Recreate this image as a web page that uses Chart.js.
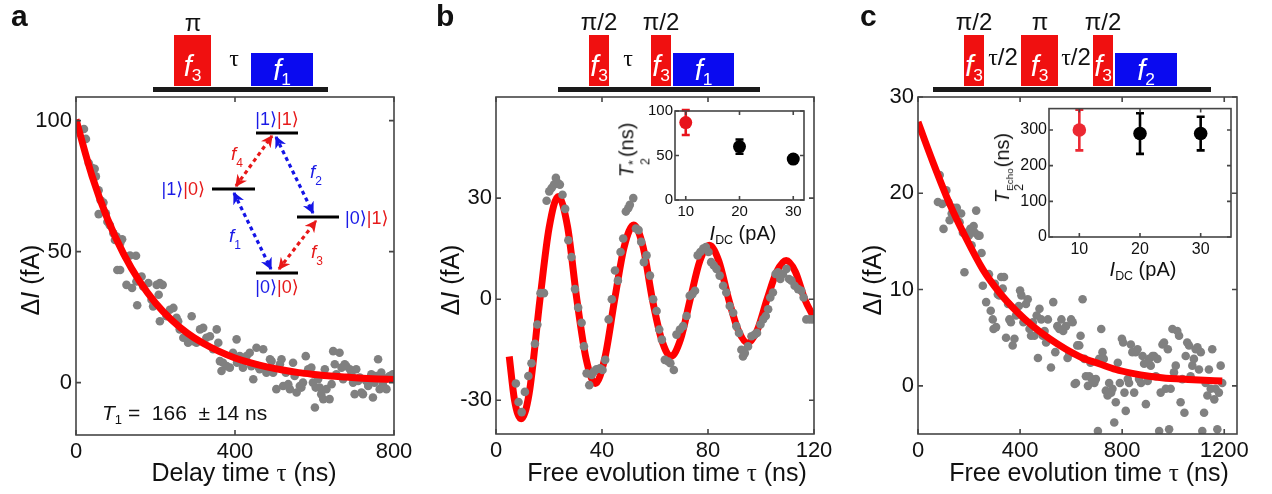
<!DOCTYPE html>
<html>
<head>
<meta charset="utf-8">
<script src="https://cdn.jsdelivr.net/npm/chart.js@4.4.1/dist/chart.umd.min.js"></script>
<style>
  body { margin: 0; background: #fff; }
  #fig { position: relative; width: 1272px; height: 494px; overflow: hidden;
         font-family: "Liberation Sans", Arial, sans-serif; color: #111; }
  #fig canvas, #fig svg { position: absolute; }
  .t { position: absolute; white-space: pre; line-height: 1; }
  .c { transform: translate(-50%, -50%); }
  .r { transform: translate(-50%, -50%) rotate(-90deg); }
  .lbl { font-weight: bold; font-size: 30px; }
  .ax { font-size: 25px; }
  .ins { font-size: 20px; }
  .sb { font-size: 0.62em; position: relative; top: 0.32em; }
  .stk { display: inline-flex; flex-direction: column; font-size: 0.62em; line-height: 0.95;
         vertical-align: -0.3em; text-align: left; margin-right: 1px; }
  .stk .e { font-size: 0.8em; }
  .serif { font-family: "Liberation Serif", "Times New Roman", serif; }
  .bar { position: absolute; top: 87px; height: 5px; background: #1a1a1a; }
  .pulse { position: absolute; bottom: calc(494px - 86px); color: #fff; font-size: 29px;
           display: flex; align-items: flex-end; justify-content: center; padding-bottom: 5px;
           box-sizing: border-box; line-height: 1; }
  .pulse .sb { font-size: 0.6em; top: 0.2em; }
  .red { background: #f01010; }
  .blue { background: #0a0af0; padding-bottom: 1px; }
  .pl { position: absolute; font-size: 24px; line-height: 1; transform: translateX(-50%); white-space: nowrap; }
</style>
</head>
<body>
<div id="fig">
  <canvas id="chartA" width="420" height="494" style="left:0;top:0"></canvas>
  <canvas id="chartB" width="420" height="494" style="left:420px;top:0"></canvas>
  <canvas id="chartC" width="432" height="494" style="left:840px;top:0"></canvas>
  <canvas id="insetB" width="180" height="122" style="left:640px;top:100px"></canvas>
  <canvas id="insetC" width="240" height="163" style="left:1005px;top:97px"></canvas>

  <!-- panel letters -->
  <div class="t lbl" style="left:11px;top:1px">a</div>
  <div class="t lbl" style="left:436px;top:1px">b</div>
  <div class="t lbl" style="left:860px;top:1px">c</div>

  <!-- pulse sequence a -->
  <div class="bar" style="left:153px;width:175px"></div>
  <div class="pulse red" style="left:174px;width:37px;height:51px"><i>f</i><span class="sb">3</span></div>
  <div class="pulse blue" style="left:251px;width:62px;height:33px"><i>f</i><span class="sb">1</span></div>
  <div class="pl" style="left:193px;top:11px">π</div>
  <div class="pl serif" style="left:234px;top:46px">τ</div>

  <!-- pulse sequence b -->
  <div class="bar" style="left:558px;width:202px"></div>
  <div class="pulse red" style="left:589px;width:20px;height:51px"><i>f</i><span class="sb">3</span></div>
  <div class="pulse red" style="left:651px;width:20px;height:51px"><i>f</i><span class="sb">3</span></div>
  <div class="pulse blue" style="left:673px;width:61px;height:33px"><i>f</i><span class="sb">1</span></div>
  <div class="pl" style="left:599px;top:10px">π/2</div>
  <div class="pl" style="left:661px;top:10px">π/2</div>
  <div class="pl serif" style="left:628px;top:46px">τ</div>

  <!-- pulse sequence c -->
  <div class="bar" style="left:933px;width:278px"></div>
  <div class="pulse red" style="left:964px;width:20px;height:51px"><i>f</i><span class="sb">3</span></div>
  <div class="pulse red" style="left:1021px;width:37px;height:51px"><i>f</i><span class="sb">3</span></div>
  <div class="pulse red" style="left:1093px;width:20px;height:51px"><i>f</i><span class="sb">3</span></div>
  <div class="pulse blue" style="left:1115px;width:62px;height:33px"><i>f</i><span class="sb">2</span></div>
  <div class="pl" style="left:974px;top:10px">π/2</div>
  <div class="pl" style="left:1040px;top:10px">π</div>
  <div class="pl" style="left:1103px;top:10px">π/2</div>
  <div class="pl" style="left:1003px;top:45px"><span class="serif">τ</span>/2</div>
  <div class="pl" style="left:1076px;top:45px"><span class="serif">τ</span>/2</div>

  <!-- axis titles -->
  <div class="t ax c" style="left:244px;top:472px">Delay time <span class="serif">τ</span> (ns)</div>
  <div class="t ax c" style="left:667px;top:472px">Free evolution time <span class="serif">τ</span> (ns)</div>
  <div class="t ax c" style="left:1089px;top:472px">Free evolution time <span class="serif">τ</span> (ns)</div>
  <div class="t ax r" style="left:30px;top:280px">Δ<i>I</i> (fA)</div>
  <div class="t ax r" style="left:450px;top:280px">Δ<i>I</i> (fA)</div>
  <div class="t ax r" style="left:872px;top:280px">Δ<i>I</i> (fA)</div>

  <!-- inset titles -->
  <div class="t ins c" style="left:743px;top:233px"><i>I</i><span class="sb">DC</span> (pA)</div>
  <div class="t ins r" style="left:634px;top:150px"><i>T</i><span class="stk"><span>*</span><span>2</span></span>(ns)</div>
  <div class="t ins c" style="left:1143px;top:269px"><i>I</i><span class="sb">DC</span> (pA)</div>
  <div class="t ins r" style="left:1009px;top:168px"><i>T</i><span class="stk"><span class="e">Echo</span><span>2</span></span>(ns)</div>

  <div class="t" style="left:102px;top:402px;font-size:21px"><i>T</i><span class="sb">1</span> =  166  ± 14 ns</div>

  <!-- energy level diagram -->
  <svg width="420" height="494" style="left:0;top:0" font-family="Liberation Sans, DejaVu Sans, sans-serif">
    <defs>
      <marker id="hb" viewBox="0 0 10 10" refX="9" refY="5" markerWidth="12" markerHeight="12"
              markerUnits="userSpaceOnUse" orient="auto-start-reverse">
        <path d="M0,0 L10,5 L0,10 L3,5 Z" fill="#1414e6"/>
      </marker>
      <marker id="hr" viewBox="0 0 10 10" refX="9" refY="5" markerWidth="12" markerHeight="12"
              markerUnits="userSpaceOnUse" orient="auto-start-reverse">
        <path d="M0,0 L10,5 L0,10 L3,5 Z" fill="#e81818"/>
      </marker>
    </defs>
    <g stroke="#000" stroke-width="3">
      <line x1="256" y1="133" x2="298" y2="133"/>
      <line x1="212" y1="189" x2="255" y2="189"/>
      <line x1="297" y1="217" x2="339" y2="217"/>
      <line x1="256" y1="273" x2="298" y2="273"/>
    </g>
    <g stroke-width="3.2" stroke-dasharray="4 3.5" fill="none">
      <line x1="236" y1="186" x2="272" y2="136" stroke="#e81818" marker-start="url(#hr)" marker-end="url(#hr)"/>
      <line x1="276" y1="137" x2="313" y2="213" stroke="#1414e6" marker-start="url(#hb)" marker-end="url(#hb)"/>
      <line x1="234" y1="193" x2="271" y2="269" stroke="#1414e6" marker-start="url(#hb)" marker-end="url(#hb)"/>
      <line x1="279" y1="269" x2="316" y2="221" stroke="#e81818" marker-start="url(#hr)" marker-end="url(#hr)"/>
    </g>
    <g font-size="18">
      <text x="277" y="125" text-anchor="middle"><tspan fill="#1a1ae6">|1⟩</tspan><tspan fill="#e61a1a">|1⟩</tspan></text>
      <text x="205" y="195" text-anchor="end"><tspan fill="#1a1ae6">|1⟩</tspan><tspan fill="#e61a1a">|0⟩</tspan></text>
      <text x="345" y="224"><tspan fill="#1a1ae6">|0⟩</tspan><tspan fill="#e61a1a">|1⟩</tspan></text>
      <text x="277" y="293" text-anchor="middle"><tspan fill="#1a1ae6">|0⟩</tspan><tspan fill="#e61a1a">|0⟩</tspan></text>
    </g>
    <g font-size="19" font-style="italic">
      <text x="231" y="160" fill="#e61a1a">f<tspan font-size="12" font-style="normal" dy="7">4</tspan></text>
      <text x="310" y="178" fill="#1a1ae6">f<tspan font-size="12" font-style="normal" dy="7">2</tspan></text>
      <text x="229" y="242" fill="#1a1ae6">f<tspan font-size="12" font-style="normal" dy="7">1</tspan></text>
      <text x="311" y="258" fill="#e61a1a">f<tspan font-size="12" font-style="normal" dy="7">3</tspan></text>
    </g>
  </svg>
</div>

<script>
// ---- panel a: energy relaxation ----
const tauA = [20,25,32,40,47,50,57,62,69,57,75,79,85,94,98,102,111,104,111,116,126,136,151,127,141,154,152,165,169,182,
  190,194,203,211,218,208,211,228,236,245,253,257,261,270,278,282,291,295,303,312,320,328,337,345,354,358,362,366,370,379,
  387,395,404,405,412,420,429,437,441,446,454,458,462,471,479,488,492,496,504,513,517,521,528,534,538,546,550,555,563,567,
  571,578,584,592,596,601,603,609,613,617,622,626,630,638,643,647,651,655,663,668,672,676,680,689,693,697,701,705,710,714,
  718,722,730,735,739,743,747,751,756,760,764,768,772,777,781,785,789,797];
const dIA = [96.8,93.0,83.8,82.0,81.6,78.7,73.4,69.6,68.7,64.3,64.6,61.4,60.1,57.0,54.4,55.7,53.2,43.0,43.0,54.7,
  48.1,48.5,48.4,37.3,36.1,29.5,38.6,40.5,36.7,38.0,31.6,29.1,37.3,38.0,37.3,33.5,23.4,25.3,27.8,28.5,
  24.7,23.4,20.3,17.1,17.7,15.2,25.3,15.8,15.2,20.3,20.9,17.1,17.7,12.7,20.3,15.2,8.2,4.4,7.6,6.3,
  5.7,11.4,16.5,7.6,10.1,5.7,10.1,11.4,6.3,1.3,13.3,6.3,5.1,12.7,3.8,8.9,8.2,3.8,-2.5,7.0,
  8.9,-1.3,3.8,-0.6,-2.5,7.6,2.5,-3.8,-1.3,-1.9,0,10.1,5.1,5.7,0,-9.5,-1.9,1.3,-1.9,-4.4,
  -6.3,5.1,-2.5,-6.3,-0.6,12.0,7.0,3.2,11.4,5.7,1.3,7.0,6.3,5.1,3.2,0,-4.4,5.1,0.6,1.9,
  -3.8,-4.4,0.6,-1.3,1.3,3.2,-5.7,0,2.5,8.9,-2.5,3.8,-0.6,1.3,-2.5,1.9,2.5,3.2];
const fitTauA = [0,40,80,120,160,200,240,280,320,360,400,440,480,520,560,600,640,680,720,760,800];
const fitA = [100.4,79.0,62.2,49.0,38.6,30.4,24.0,18.9,15.0,11.9,9.4,7.5,6.0,4.8,3.8,3.1,2.5,2.1,1.7,1.4,1.2];
const xTicksA = [0,400,800];
const yTicksA = [0,50,100];

// ---- panel b: Ramsey fringes ----
const tauB = [7.5,8.5,9.7,10.9,12.2,13.4,14.7,15.6,16.8,18.1,19.1,20.1,21.0,21.9,22.6,23.4,24.1,25.1,26.1,27.3,
  28.5,29.8,31.0,32.3,33.2,34.2,35.2,36.1,36.9,37.9,39.2,40.2,41.2,42.5,43.7,44.9,46.0,47.0,48.0,49.0,
  49.9,50.5,51.8,52.8,53.8,54.8,55.8,56.8,58.1,59.3,60.6,61.6,62.6,63.7,65.0,65.8,67.1,68.1,69.4,70.6,
  71.9,73.1,74.1,75.1,76.1,77.1,78.2,79.2,80.2,81.2,82.2,83.2,84.4,85.7,86.9,88.2,89.5,90.7,91.7,92.6,
  93.2,93.9,95.1,96.4,97.6,98.5,99.8,100.8,101.8,102.7,103.5,104.5,105.5,106.4,107.3,108.3,109.6,110.6,111.5,112.7,
  114.0,115.2,116.1,117.1,118.4,119.6];
const dIB = [-25,-30.5,-33.5,-27.5,-22.8,-19,-13.2,-7.5,1.8,1.8,29.2,32,33,34,36,34.5,34,31,26.8,17.5,
  12.5,3,-2.5,-7,-14,-22,-25.5,-22.5,-21.5,-20.8,-20.5,-21,-18,-6,0,8.5,5.5,14,18,26,
  27,28,30,21,20.5,17,11,13,7,0,-3.5,-9,-12,-18,-18.5,-19,-21,-10.5,-9,-8,
  -5,1,1.5,2.5,13,14,15,15.5,14,11,10,9,7,4,2,-2,-4,-8,-10,-15,
  -17,-16,-14,-11,-10.5,-10,-7.5,-6,-5,-3,0.5,2,7.5,8,6,7.5,9,6,5.5,4,
  3,2.5,0.5,-6,-6,-6];
const fitTauB = [5,7,9.5,12.5,16.6,20,23.5,27,30.5,34,37.5,41,44.8,48.4,52,55.5,59,62.5,66,69.6,
  73.3,76.9,80.5,84.1,87.8,91.4,95,98.6,102.3,105.9,109.5,113,116.5,120];
const fitB = [-17,-30,-35.5,-28,0,21,30.5,21.5,0,-17.7,-25,-17.7,0,15.6,22,15.5,0,-12,-17,-12,
  0,11.3,16,11.3,0,-9.2,-13,-9.2,0,8.1,11.5,8.1,0,-5.5];
const xTicksB = [0,40,80,120];
const yTicksB = [-30,0,30];

// ---- panel c: Hahn echo ----
const tauC = [78,85,95,100,111,119,124,132,139,147,152,163,169,176,182,189,199,205,210,218,
  223,228,236,241,249,254,267,278,285,293,296,301,306,313,319,326,332,337,345,353,
  358,364,371,378,384,395,400,405,413,423,430,437,443,450,456,465,470,476,483,489,
  496,502,509,521,530,538,546,554,562,569,580,586,593,600,606,614,619,624,632,637,
  645,652,658,666,671,676,681,691,697,705,710,718,723,728,736,743,749,757,762,769,
  775,783,791,799,804,809,814,822,827,834,840,847,853,860,866,874,880,886,893,900,
  906,912,919,925,932,938,945,951,958,964,971,979,984,990,997,1003,1010,1016,1023,1029,
  1036,1044,1049,1055,1062,1068,1075,1081,1088,1095,1101,1108,1114,1121,1127,1134,1140,1147,1153,1161,
  1166,1173,1179,1186,1192];
const dIC = [19.1,21.9,18.9,16.3,20.3,19.1,17.2,17.9,18.5,17.7,18.5,17.0,17.9,15.9,11.8,15.9,15.6,16.3,14.6,16.6,
  15.9,18.2,15.6,15.6,13.8,10.4,8.7,11.6,7.8,6.9,5.9,10.6,6.1,9.5,9.4,11.3,10.1,11.3,5.0,8.5,
  6.9,6.6,4.2,4.9,7.3,8.3,9.9,9.4,6.6,8.5,9.0,5.9,5.2,6.6,5.2,7.3,2.9,8.0,6.9,5.2,
  5.7,4.5,6.9,1.9,8.7,3.5,6.2,5.9,6.9,5.7,6.2,2.9,3.3,6.9,6.6,0.2,0.3,4.2,4.2,5.2,
  9.0,2.8,1.0,0,1.0,2.4,0.7,0.3,0.7,-4.7,2.8,5.9,3.5,2.8,-0.5,-1.0,0.3,-0.7,-0.3,-3.8,
  -1.7,2.4,0.3,4.9,4.5,-0.7,-2.6,0.7,0.3,4.3,3.5,-0.7,3.5,3.8,0.7,0.3,3.1,2.3,-1.9,0.5,
  2.8,2.1,3.1,3.1,1.0,2.8,-4.7,-0.7,4.3,4.5,-0.3,3.8,-4.5,-0.3,5.9,1.4,2.1,5.7,5.2,-1.7,
  0.7,-2.8,3.1,4.5,4.2,1.0,2.1,2.8,3.8,4.0,1.7,3.5,-4.7,-2.8,0.3,-1.0,1.7,-0.3,3.8,-1.4,
  -0.3,-4.5,-0.7,2.1,0.3];
const fitTauC = [0,59,124,189,254,319,384,450,515,580,645,710,775,840,906,971,1036,1101,1192];
const fitC = [27.4,23.2,18.9,15.3,12.1,9.7,7.8,6.2,4.9,3.8,2.9,2.3,1.7,1.3,1.0,0.8,0.7,0.6,0.5];
const xTicksC = [0,400,800,1200];
const yTicksC = [0,10,20,30];

// ---- insets ----
const idc = [10,20,30];
const t2star = [87,60,46];
const t2starErr = [14,8,4];
const t2echo = [300,290,290];
const t2echoErr = [57,57,47];
const insetXTicks = [10,20,30];
const insetBYTicks = [0,50,100];
const insetCYTicks = [0,100,200,300];

Chart.defaults.font.family = "'Liberation Sans', Arial, sans-serif";
Chart.defaults.color = '#111';
Chart.defaults.animation = false;

const pts = (xs, ys) => xs.map((x, i) => ({ x: x, y: ys[i] }));

// box around the plot with small inward ticks on all four sides
const framePlugin = {
  id: 'frame',
  afterDatasetsDraw(chart, args, opts) {
    const { ctx, chartArea: a, scales } = chart;
    const len = opts.tick || 5;
    ctx.save();
    ctx.strokeStyle = '#454545';
    ctx.lineWidth = 1.6;
    ctx.beginPath();
    scales.x.ticks.forEach(t => {
      const px = scales.x.getPixelForValue(t.value);
      ctx.moveTo(px, a.bottom); ctx.lineTo(px, a.bottom - len);
      ctx.moveTo(px, a.top); ctx.lineTo(px, a.top + len);
    });
    scales.y.ticks.forEach(t => {
      const py = scales.y.getPixelForValue(t.value);
      ctx.moveTo(a.left, py); ctx.lineTo(a.left + len, py);
      ctx.moveTo(a.right, py); ctx.lineTo(a.right - len, py);
    });
    ctx.stroke();
    ctx.strokeRect(a.left, a.top, a.right - a.left, a.bottom - a.top);
    ctx.restore();
  }
};

// vertical error bars with caps for datasets that carry an "errors" array
const errorBarPlugin = {
  id: 'errorBars',
  beforeDatasetsDraw(chart) {
    const { ctx, scales: { x, y } } = chart;
    chart.data.datasets.forEach(ds => {
      if (!ds.errors) return;
      ds.data.forEach((p, j) => {
        const px = x.getPixelForValue(p.x);
        const lo = y.getPixelForValue(p.y - ds.errors[j]);
        const hi = y.getPixelForValue(p.y + ds.errors[j]);
        ctx.save();
        ctx.strokeStyle = ds.pointBackgroundColor[j];
        ctx.lineWidth = 2.6;
        ctx.beginPath();
        ctx.moveTo(px, lo); ctx.lineTo(px, hi);
        ctx.moveTo(px - 4, lo); ctx.lineTo(px + 4, lo);
        ctx.moveTo(px - 4, hi); ctx.lineTo(px + 4, hi);
        ctx.stroke();
        ctx.restore();
      });
    });
  }
};

function makeChart(id, o) {
  return new Chart(document.getElementById(id), {
    data: { datasets: o.datasets },
    options: {
      responsive: false,
      layout: { padding: o.padding },
      plugins: { legend: { display: false }, tooltip: { enabled: false }, frame: { tick: o.tick } },
      scales: {
        x: {
          type: 'linear', min: o.xMin, max: o.xMax,
          grid: { display: false, drawTicks: false }, border: { display: false },
          afterBuildTicks: s => { s.ticks = o.xTicks.map(v => ({ value: v })); },
          afterFit: s => { s.height = o.xH; },
          ticks: { autoSkip: false, maxRotation: 0, padding: o.xPad, font: { size: o.font }, color: '#111',
                   callback: v => String(v) }
        },
        y: {
          type: 'linear', min: o.yMin, max: o.yMax,
          grid: { display: false, drawTicks: false }, border: { display: false },
          afterBuildTicks: s => { s.ticks = o.yTicks.map(v => ({ value: v })); },
          afterFit: s => { s.width = o.yW; },
          ticks: { autoSkip: false, padding: o.yPad, font: { size: o.font }, color: '#111',
                   callback: v => String(v) }
        }
      }
    },
    plugins: [framePlugin, errorBarPlugin]
  });
}

const dotStyle = { type: 'scatter', pointRadius: 4.3, pointBackgroundColor: '#808080', pointBorderWidth: 0 };
const fitStyle = { type: 'line', borderColor: '#ff0000', borderWidth: 7, pointRadius: 0,
                   cubicInterpolationMode: 'monotone', fill: false };

makeChart('chartA', {
  datasets: [
    { ...dotStyle, data: pts(tauA, dIA), order: 1 },
    { ...fitStyle, data: pts(fitTauA, fitA), order: 0 }
  ],
  padding: { top: 97, right: 26 }, xH: 59, yW: 76, xPad: 4, yPad: 4, font: 22, tick: 5,
  xMin: 0, xMax: 800, yMin: -20, yMax: 109, xTicks: xTicksA, yTicks: yTicksA
});

makeChart('chartB', {
  datasets: [
    { ...dotStyle, data: pts(tauB, dIB), order: 0 },
    { ...fitStyle, data: pts(fitTauB, fitB), order: 1 }
  ],
  padding: { top: 97, right: 26 }, xH: 60, yW: 76, xPad: 4, yPad: 4, font: 22, tick: 5,
  xMin: 0, xMax: 120, yMin: -40, yMax: 60, xTicks: xTicksB, yTicks: yTicksB
});

makeChart('chartC', {
  datasets: [
    { ...dotStyle, data: pts(tauC, dIC), order: 1 },
    { ...fitStyle, data: pts(fitTauC, fitC), order: 0 }
  ],
  padding: { top: 97, right: 35 }, xH: 60, yW: 78, xPad: 4, yPad: 4, font: 22, tick: 5,
  xMin: 0, xMax: 1250, yMin: -5, yMax: 30, xTicks: xTicksC, yTicks: yTicksC
});

makeChart('insetB', {
  datasets: [
    { type: 'scatter', data: pts(idc, t2star), errors: t2starErr, pointRadius: 6.5, pointBorderWidth: 0,
      pointBackgroundColor: ['#e8141c', '#000', '#000'] }
  ],
  padding: { top: 11, right: 16 }, xH: 22, yW: 35, xPad: 3, yPad: 2, font: 15, tick: 4,
  xMin: 8, xMax: 32, yMin: 0, yMax: 100, xTicks: insetXTicks, yTicks: insetBYTicks
});

makeChart('insetC', {
  datasets: [
    { type: 'scatter', data: pts(idc, t2echo), errors: t2echoErr, pointRadius: 6.8, pointBorderWidth: 0,
      pointBackgroundColor: ['#ec2832', '#000', '#000'] }
  ],
  padding: { top: 10, right: 14 }, xH: 23, yW: 44, xPad: 3, yPad: 2, font: 16, tick: 4,
  xMin: 5, xMax: 35, yMin: 0, yMax: 360, xTicks: insetXTicks, yTicks: insetCYTicks
});
</script>
</body>
</html>
